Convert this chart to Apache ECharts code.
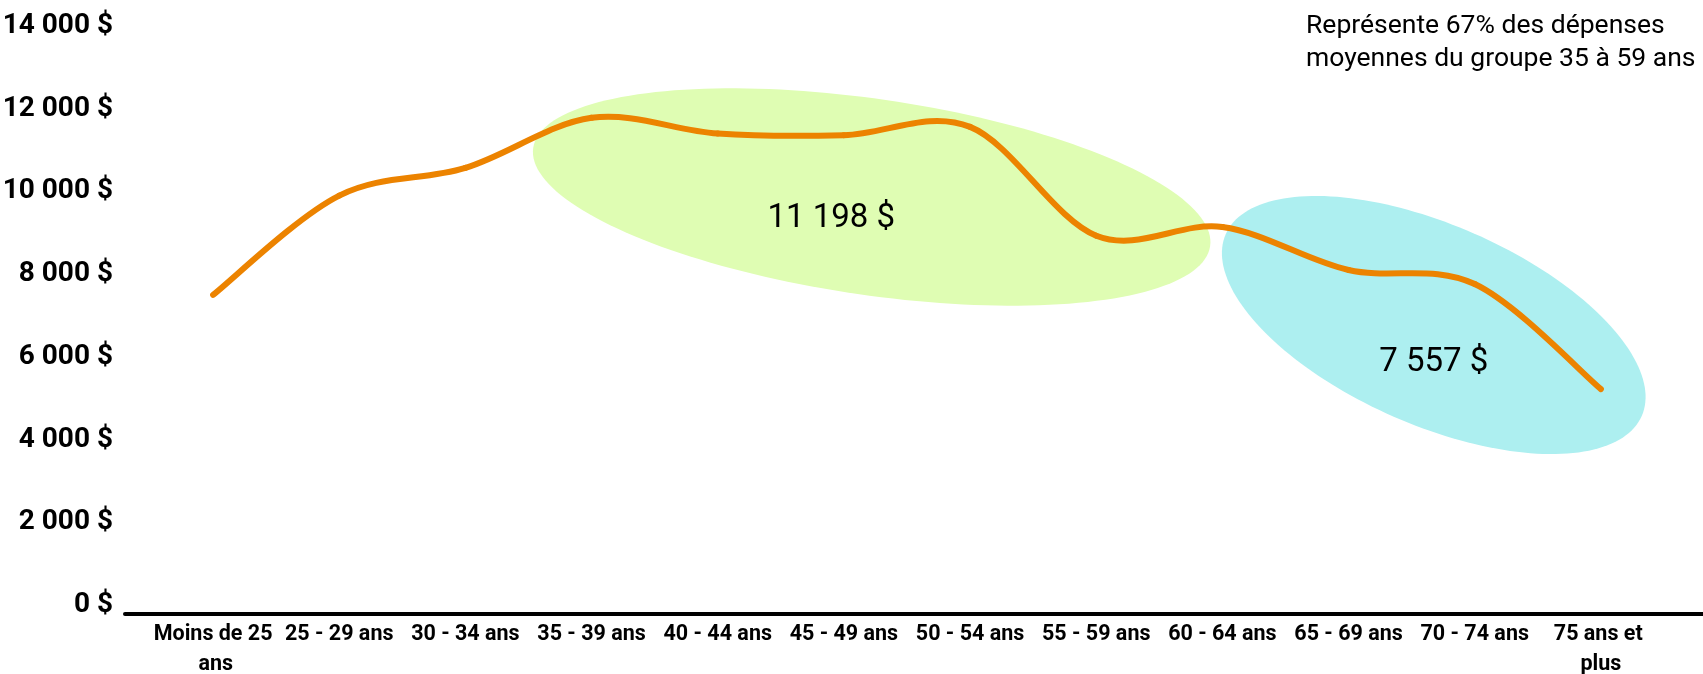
<!DOCTYPE html>
<html>
<head>
<meta charset="utf-8">
<script src="https://cdn.jsdelivr.net/npm/echarts@6/dist/echarts.min.js"></script>
<style>
  html, body { margin: 0; padding: 0; background: #fff; }
  #chart { width: 1703px; height: 674px; }
</style>
</head>
<body>
<div id="chart"></div>
<script>
// Age groups on the horizontal axis
const categories = [
  'Moins de 25 ans', '25 - 29 ans', '30 - 34 ans', '35 - 39 ans',
  '40 - 44 ans', '45 - 49 ans', '50 - 54 ans', '55 - 59 ans',
  '60 - 64 ans', '65 - 69 ans', '70 - 74 ans', '75 ans et plus'
];

// Average spending per age group ($)
const spending = [7500, 9900, 10570, 11780, 11400, 11360, 11560, 8930, 9140, 8100, 7760, 5220];

// Value axis ticks
const yTicks = [0, 2000, 4000, 6000, 8000, 10000, 12000, 14000];

// Group averages shown inside the highlighted zones (35 à 59 ans, 60 ans et plus)
const groupAverages = [11198, 7557];

// Note in the top-right corner
const noteLines = ['Représente 67% des dépenses', 'moyennes du groupe 35 à 59 ans'];

// Placement of the highlighted zones, in axis units (category index, value),
// with ellipse radii in pixels and tilt in degrees
const zoneLayout = [
  { cx: 5.22, cy: 9865, rx: 342, ry: 98, tilt: 8.25, tx: 4.90, ty: 9333, fill: '#DFFDB3' },
  { cx: 9.675, cy: 6770, rx: 227, ry: 100, tilt: 23.6, tx: 9.675, ty: 5851, fill: '#ADEFF0' }
];

const LINE_COLOR = '#EC8300';

const fmtNum = v => String(v).replace(/\B(?=(\d{3})+(?!\d))/g, ' ');

// Category axis rounds fractional indices, so offset by a fraction of the band
function coordAt(api, idx, val) {
  const base = Math.floor(idx);
  const p = api.coord([base, val]);
  const band = api.size([1, 0])[0];
  return [p[0] + (idx - base) * band, p[1]];
}

function renderZone(params, api) {
  const L = zoneLayout[params.dataIndex];
  const c = coordAt(api, L.cx, L.cy);
  const t = coordAt(api, L.tx, L.ty);
  const th = L.tilt * Math.PI / 180;
  const pts = [];
  for (let k = 0; k < 180; k++) {
    const a = k / 180 * Math.PI * 2;
    const ex = L.rx * Math.cos(a), ey = L.ry * Math.sin(a);
    pts.push([c[0] + ex * Math.cos(th) - ey * Math.sin(th),
              c[1] + ex * Math.sin(th) + ey * Math.cos(th)]);
  }
  return {
    type: 'group',
    children: [
      { type: 'polygon', shape: { points: pts }, style: { fill: L.fill } },
      {
        type: 'text', x: t[0], y: t[1],
        style: {
          text: fmtNum(groupAverages[params.dataIndex]) + ' $',
          align: 'center', verticalAlign: 'middle',
          fontFamily: 'Roboto', fontSize: 33, fill: '#000'
        }
      }
    ]
  };
}

// Smoothed spending curve: one Catmull-Rom bezier segment per pair of points
function renderCurve(params, api) {
  const i = params.dataIndex;
  const n = spending.length;
  if (i >= n - 1) return null;
  const P = j => {
    const k = Math.max(0, Math.min(n - 1, j));
    return api.coord([k, spending[k]]);
  };
  const p0 = P(i - 1), p1 = P(i), p2 = P(i + 1), p3 = P(i + 2);
  return {
    type: 'bezierCurve',
    shape: {
      x1: p1[0], y1: p1[1], x2: p2[0], y2: p2[1],
      cpx1: p1[0] + (p2[0] - p0[0]) / 6, cpy1: p1[1] + (p2[1] - p0[1]) / 6,
      cpx2: p2[0] - (p3[0] - p1[0]) / 6, cpy2: p2[1] - (p3[1] - p1[1]) / 6
    },
    style: { stroke: LINE_COLOR, lineWidth: 6, fill: 'none', lineCap: 'round' }
  };
}

const chart = echarts.init(document.getElementById('chart'), null, { renderer: 'canvas' });

chart.setOption({
  backgroundColor: '#fff',
  animation: false,
  grid: [
    { left: 150, right: 39, top: 26, bottom: 69, containLabel: false, outerBoundsMode: 'none' },
    { left: 125, right: 0, top: 26, bottom: 60, containLabel: false, outerBoundsMode: 'none' }
  ],
  xAxis: [
    {
      type: 'category',
      gridIndex: 0,
      data: categories,
      boundaryGap: true,
      axisLine: { show: false },
      axisTick: { show: false },
      splitLine: { show: false },
      axisLabel: {
        interval: 0,
        margin: 15,
        width: 124,
        overflow: 'break',
        lineHeight: 30,
        fontFamily: 'Roboto',
        fontWeight: 'bold',
        fontSize: 21.5,
        color: '#000'
      }
    },
    {
      // baseline rule running under the whole chart
      type: 'value',
      gridIndex: 1,
      min: 0, max: 1,
      axisLine: { show: true, onZero: false, lineStyle: { color: '#000', width: 4 } },
      axisTick: { show: false },
      axisLabel: { show: false },
      splitLine: { show: false }
    }
  ],
  yAxis: [
    {
      type: 'value',
      gridIndex: 0,
      min: yTicks[0],
      max: yTicks[yTicks.length - 1],
      interval: yTicks[1] - yTicks[0],
      axisLine: { show: false },
      axisTick: { show: false },
      splitLine: { show: false },
      axisLabel: {
        margin: 37,
        fontFamily: 'Roboto',
        fontWeight: 'bold',
        fontSize: 28,
        color: '#000',
        formatter: v => fmtNum(v) + ' $'
      }
    },
    { type: 'value', gridIndex: 1, show: false, min: 0, max: 1 }
  ],
  graphic: [
    {
      type: 'text',
      left: 1306,
      top: 10,
      style: {
        text: noteLines.join('\n'),
        fontFamily: 'Roboto',
        fontSize: 26.5,
        lineHeight: 33,
        fill: '#000'
      }
    }
  ],
  series: [
    {
      type: 'custom',
      xAxisIndex: 0,
      yAxisIndex: 0,
      z: 1,
      silent: true,
      data: groupAverages.map((v, i) => [i, v]),
      encode: { x: 0, y: 1 },
      renderItem: renderZone
    },
    {
      type: 'custom',
      name: 'Dépenses moyennes',
      xAxisIndex: 0,
      yAxisIndex: 0,
      z: 3,
      silent: true,
      data: spending.map((v, i) => [i, v]),
      encode: { x: 0, y: 1 },
      renderItem: renderCurve
    }
  ]
});
</script>
</body>
</html>
